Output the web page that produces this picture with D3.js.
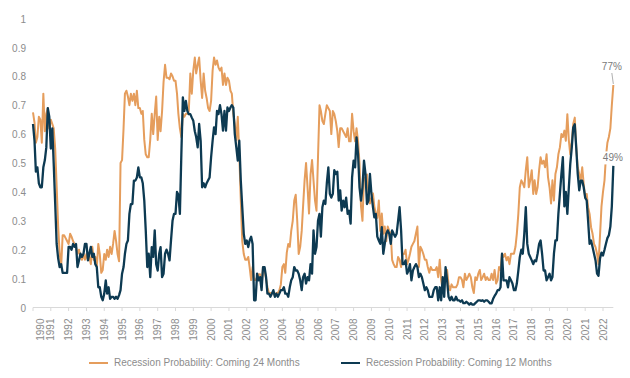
<!DOCTYPE html>
<html>
<head>
<meta charset="utf-8">
<script src="https://cdn.jsdelivr.net/npm/d3@7"></script>
<style>
  html, body { margin: 0; padding: 0; background: #fff; }
  svg { display: block; font-family: "Liberation Sans", Arial, Helvetica, sans-serif; }
</style>
</head>
<body>
<svg id="chart" width="630" height="378"></svg>
<script>
// ---- DATA (monthly, starting Jan 1990) ----
const startYear = 1990;
const seriesNames = ["Recession Probability: Coming 24 Months", "Recession Probability: Coming 12 Months"];
const seriesColors = ["#E59D5C", "#0D3A52"];
const yearLabels = ["1990","1991","1992","1993","1994","1995","1996","1997","1998","1999","2000","2001","2002","2003","2004","2005","2006","2007","2008","2009","2010","2011","2012","2013","2014","2015","2016","2017","2018","2019","2020","2021","2022"];
const yTickValues = [0, 0.1, 0.2, 0.3, 0.4, 0.5, 0.6, 0.7, 0.8, 0.9, 1];
const endLabels = ["77%", "49%"];

const prob24 = [
  .675,.64,.57,.59,.66,.65,.57,.74,.61,.67,.69,.62,
  .65,.635,.62,.55,.42,.28,.19,.14,.25,.25,.24,.23,
  .22,.255,.245,.23,.22,.21,.185,.20,.175,.165,.185,.165,
  .185,.165,.175,.15,.21,.165,.175,.14,.22,.185,.12,.13,
  .185,.165,.20,.175,.21,.185,.22,.265,.23,.185,.16,.50,
  .51,.62,.74,.75,.73,.70,.74,.715,.74,.70,.75,.69,
  .69,.67,.68,.58,.53,.52,.52,.58,.67,.60,.67,.73,
  .58,.66,.61,.68,.78,.84,.795,.795,.79,.81,.80,.785,
  .785,.74,.67,.62,.59,.67,.66,.67,.67,.68,.81,.74,
  .82,.865,.81,.84,.865,.785,.725,.81,.75,.725,.69,.68,
  .715,.82,.865,.84,.855,.83,.82,.83,.77,.81,.77,.795,
  .785,.75,.74,.67,.635,.58,.66,.53,.37,.23,.185,.165,
  .165,.175,.14,.095,.14,.095,.095,.105,.115,.115,.07,.14,
  .13,.10,.07,.05,.05,.05,.05,.04,.05,.05,.06,.08,
  .14,.15,.12,.19,.22,.21,.265,.30,.37,.39,.30,.185,
  .21,.265,.35,.44,.50,.415,.325,.46,.51,.44,.37,.335,
  .52,.70,.68,.645,.635,.67,.70,.69,.68,.60,.68,.67,
  .645,.61,.555,.62,.62,.61,.60,.59,.62,.575,.575,.67,
  .61,.575,.62,.575,.50,.35,.30,.45,.44,.46,.395,.36,
  .38,.395,.35,.325,.31,.37,.265,.325,.255,.28,.23,.28,
  .265,.255,.165,.15,.14,.14,.175,.165,.14,.185,.185,.20,
  .15,.165,.185,.21,.22,.23,.255,.28,.14,.21,.20,.185,
  .165,.165,.14,.12,.14,.13,.13,.13,.14,.105,.165,.095,
  .06,.07,.12,.13,.08,.06,.08,.07,.07,.07,.08,.105,
  .105,.095,.07,.117,.095,.105,.117,.105,.07,.05,.105,.095,
  .117,.13,.095,.105,.117,.095,.105,.095,.095,.117,.095,.13,
  .083,.095,.14,.13,.186,.175,.186,.163,.175,.15,.186,.186,
  .186,.21,.255,.324,.416,.44,.43,.416,.475,.52,.416,.44,
  .475,.393,.44,.393,.416,.475,.52,.497,.508,.485,.53,.45,
  .416,.36,.44,.37,.462,.485,.53,.554,.60,.59,.612,.577,
  .669,.577,.53,.577,.635,.657,.554,.485,.462,.44,.485,.428,
  .38,.393,.347,.324,.278,.255,.22,.209,.186,.15,.25,.35,
  .40,.44,.52,.57,.59,.62,.70,.77
];

const prob12 = [
  .635,.577,.47,.485,.43,.416,.416,.485,.51,.554,.69,.66,
  .55,.62,.50,.36,.22,.17,.14,.15,.12,.12,.12,.12,
  .21,.21,.20,.22,.21,.22,.14,.163,.186,.175,.186,.22,
  .22,.163,.186,.21,.175,.186,.15,.14,.07,.07,.037,.025,
  .048,.094,.048,.07,.03,.037,.037,.03,.037,.03,.043,.06,
  .117,.14,.186,.22,.232,.324,.358,.358,.439,.439,.45,.485,
  .45,.45,.43,.37,.267,.14,.186,.105,.209,.175,.267,.15,
  .128,.186,.209,.105,.117,.186,.20,.186,.163,.232,.30,.324,
  .324,.40,.39,.324,.53,.727,.68,.715,.68,.669,.669,.657,
  .646,.61,.59,.554,.635,.577,.416,.43,.416,.43,.44,.45,
  .52,.577,.623,.60,.68,.669,.70,.669,.612,.68,.612,.692,
  .68,.692,.70,.692,.60,.554,.508,.577,.439,.347,.255,.22,
  .232,.209,.232,.245,.22,.025,.025,.117,.094,.105,.06,.14,
  .14,.105,.048,.048,.037,.048,.06,.037,.048,.037,.048,.06,
  .06,.07,.048,.048,.037,.07,.094,.105,.14,.128,.128,.117,
  .094,.06,.105,.117,.083,.105,.094,.15,.117,.267,.186,.209,
  .30,.324,.245,.347,.37,.358,.43,.485,.393,.38,.393,.475,
  .462,.47,.37,.405,.335,.37,.347,.38,.324,.335,.29,.45,
  .508,.485,.589,.531,.416,.37,.416,.508,.462,.358,.37,.462,
  .393,.347,.312,.324,.245,.232,.22,.278,.186,.22,.255,.267,
  .255,.22,.267,.255,.245,.255,.30,.347,.267,.15,.15,.163,
  .117,.128,.15,.094,.128,.14,.15,.14,.105,.117,.105,.083,
  .06,.07,.06,.037,.037,.037,.06,.07,.07,.025,.07,.025,
  .105,.037,.14,.094,.037,.025,.037,.025,.025,.037,.025,.025,
  .02,.025,.015,.015,.02,.015,.01,.015,.01,.01,.015,.02,
  .025,.025,.023,.025,.02,.025,.025,.02,.014,.014,.03,.04,
  .048,.06,.06,.07,.186,.094,.094,.094,.07,.105,.094,.083,
  .06,.06,.083,.128,.175,.20,.186,.255,.347,.22,.186,.175,
  .163,.15,.163,.16,.186,.22,.232,.186,.128,.128,.094,.105,
  .117,.094,.105,.186,.232,.232,.324,.393,.462,.52,.35,.40,
  .324,.416,.497,.554,.623,.634,.554,.462,.405,.439,.439,.416,
  .38,.37,.301,.22,.232,.209,.186,.163,.117,.11,.17,.19,
  .18,.20,.22,.24,.25,.28,.35,.49
];

// ---- LAYOUT ----
const svg = d3.select("#chart");
const x = d3.scaleTime()
  .domain([new Date(1990, 0, 1), new Date(2022, 0, 1)])
  .range([33, 603]);
const y = d3.scaleLinear().domain([0, 1]).range([307.5, 18.5]);

const toPoints = arr => arr.map((v, i) => ({ date: new Date(startYear, i, 1), v }));
const allSeries = [prob24, prob12].map(toPoints);
const lastDate = allSeries[0][allSeries[0].length - 1].date;

const labelColor = "#8c8c8c";

// Y labels
svg.append("g").selectAll("text")
  .data(yTickValues)
  .join("text")
  .attr("x", 26)
  .attr("y", d => y(d) + 1.5)
  .attr("text-anchor", "end")
  .attr("dominant-baseline", "middle")
  .attr("font-size", 10)
  .attr("fill", labelColor)
  .text(d => d3.format("")(+d.toFixed(1)));

// X axis
const tickDates = yearLabels.map(s => new Date(+s, 0, 1));
const xAxis = svg.append("g").attr("transform", `translate(0,${y(0)})`);
xAxis.append("line")
  .attr("x1", x(tickDates[0])).attr("x2", x(lastDate))
  .attr("stroke", "#d9d9d9").attr("stroke-width", 1);
xAxis.selectAll("line.tick")
  .data(tickDates)
  .join("line")
  .attr("class", "tick")
  .attr("x1", d => x(d)).attr("x2", d => x(d))
  .attr("y1", 0).attr("y2", 3.5)
  .attr("stroke", "#d9d9d9").attr("stroke-width", 1);
xAxis.selectAll("text")
  .data(yearLabels)
  .join("text")
  .attr("transform", (d, i) => {
    const px = Math.max(x(tickDates[i]), x(tickDates[0]) + 7);
    return `translate(${px + 3.5},11) rotate(-90)`;
  })
  .attr("text-anchor", "end")
  .attr("font-size", 10)
  .attr("fill", labelColor)
  .text(d => d);

// Lines
const line = d3.line().x(d => x(d.date)).y(d => y(d.v)).curve(d3.curveLinear);
svg.append("g").selectAll("path")
  .data(allSeries)
  .join("path")
  .attr("d", line)
  .attr("fill", "none")
  .attr("stroke", (d, i) => seriesColors[i])
  .attr("stroke-width", (d, i) => i === 0 ? 2 : 2.3)
  .attr("stroke-linejoin", "round");

// End labels
const lastVals = allSeries.map(s => s[s.length - 1]);
const lx = x(lastDate);
// 77% leader line
svg.append("line")
  .attr("x1", lx - 1.5).attr("y1", 73)
  .attr("x2", lx).attr("y2", y(lastVals[0].v) - 1)
  .attr("stroke", "#999").attr("stroke-width", 0.8);
svg.append("text")
  .attr("x", lx - 1.5).attr("y", 67)
  .attr("text-anchor", "middle").attr("dominant-baseline", "middle")
  .attr("font-size", 10).attr("fill", "#7a7a7a")
  .text(endLabels[0]);
const l2 = svg.append("g").attr("transform", `translate(${lx - 0.5},${y(lastVals[1].v) - 8})`);
l2.append("rect").attr("x", -10.5).attr("y", -6.5).attr("width", 21).attr("height", 13).attr("fill", "#fff");
l2.append("text")
  .attr("text-anchor", "middle").attr("dominant-baseline", "middle")
  .attr("font-size", 10).attr("fill", "#7a7a7a")
  .text(endLabels[1]);

// Legend
const legendPos = [89, 341];
const lg = svg.append("g").selectAll("g")
  .data(seriesNames)
  .join("g")
  .attr("transform", (d, i) => `translate(${legendPos[i]},363)`);
lg.append("line")
  .attr("x1", 0).attr("x2", 19)
  .attr("stroke", (d, i) => seriesColors[i])
  .attr("stroke-width", 2);
lg.append("text")
  .attr("x", 25).attr("y", 0)
  .attr("dominant-baseline", "middle")
  .attr("font-size", 10)
  .attr("fill", labelColor)
  .text(d => d);
</script>
</body>
</html>
